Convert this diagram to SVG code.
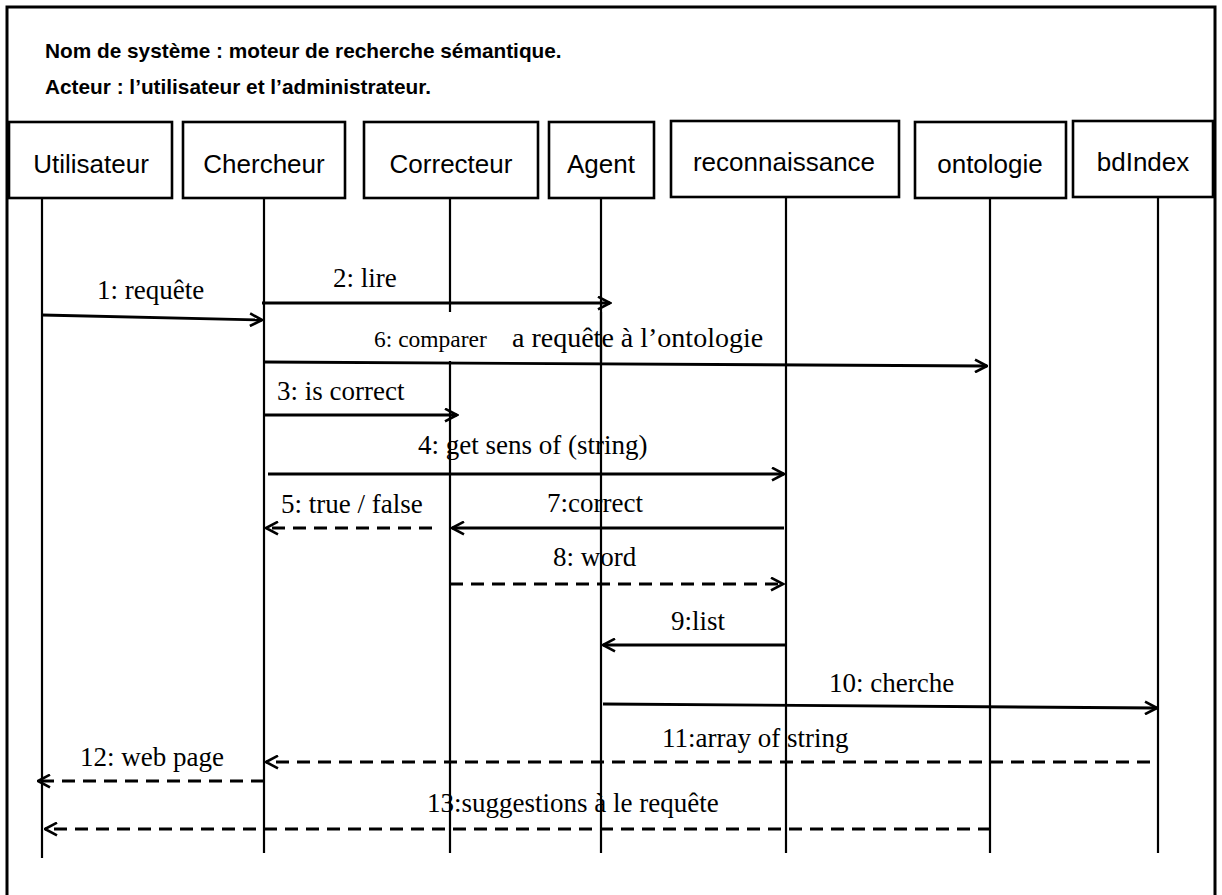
<svg xmlns="http://www.w3.org/2000/svg" width="1222" height="895" viewBox="0 0 1222 895">
<style>
.frame{fill:none;stroke:#000;stroke-width:3}
.box{fill:#fff;stroke:#000;stroke-width:2.6}
.life{stroke:#000;stroke-width:2.2}
.lbl{font-family:"Liberation Sans",Arial,sans-serif;font-size:26px;fill:#000;text-anchor:middle}
.title{font-family:"Liberation Sans",Arial,sans-serif;font-size:20.8px;font-weight:bold;fill:#000}
.msg{font-family:"Liberation Serif","Times New Roman",serif;font-size:27px;fill:#000}
.solid{stroke:#000;stroke-width:2.8;fill:none;marker-end:url(#ah)}
.dash{stroke:#000;stroke-width:2.8;fill:none;stroke-dasharray:13 8;marker-end:url(#ah)}
</style>
<defs>
<marker id="ah" viewBox="0 0 15 15" refX="13.5" refY="7.5" markerWidth="15" markerHeight="15" markerUnits="userSpaceOnUse" orient="auto">
<path d="M1.5,1.2 L13.5,7.5 L1.5,13.8" fill="none" stroke="#000" stroke-width="2.6"/>
</marker>
</defs>
<rect width="1222" height="895" fill="#fff"/>
<path class="frame" d="M7,897 V7 H1215 V897"/>
<text class="title" x="45" y="58">Nom de système : moteur de recherche sémantique.</text>
<text class="title" x="45" y="94">Acteur : l’utilisateur et l’administrateur.</text>

<g id="utilisateur"><line class="life" x1="42" y1="198" x2="42" y2="858"/><rect class="box" x="9" y="122" width="163" height="76"/><text class="lbl" x="91" y="173">Utilisateur</text></g>
<g id="chercheur"><line class="life" x1="264" y1="198" x2="264" y2="853"/><rect class="box" x="183" y="122" width="162" height="76"/><text class="lbl" x="264" y="173">Chercheur</text></g>
<g id="correcteur"><line class="life" x1="450" y1="198" x2="450" y2="853"/><rect class="box" x="364" y="122" width="174" height="76"/><text class="lbl" x="451" y="173">Correcteur</text></g>
<g id="agent"><line class="life" x1="601" y1="198" x2="601" y2="853"/><rect class="box" x="549" y="122" width="105" height="76"/><text class="lbl" x="601" y="173">Agent</text></g>
<g id="reconnaissance"><line class="life" x1="786" y1="198" x2="786" y2="853"/><rect class="box" x="671" y="121" width="228" height="76"/><text class="lbl" x="784" y="171">reconnaissance</text></g>
<g id="ontologie"><line class="life" x1="990" y1="198" x2="990" y2="853"/><rect class="box" x="915" y="122" width="151" height="76"/><text class="lbl" x="990" y="173">ontologie</text></g>
<g id="bdIndex"><line class="life" x1="1158" y1="198" x2="1158" y2="853"/><rect class="box" x="1073" y="121" width="140" height="76"/><text class="lbl" x="1143" y="171">bdIndex</text></g>

<g id="connectors">
<line class="solid" x1="42" y1="315" x2="262" y2="320"/>
<text class="msg" x="97" y="299">1: requête</text>
<line class="solid" x1="262" y1="303" x2="610" y2="303"/>
<text class="msg" x="333" y="287">2: lire</text>
<rect x="372" y="312" width="222" height="49" fill="#fff"/>
<line class="life" x1="601" y1="312" x2="601" y2="362"/>
<line class="solid" x1="264" y1="362" x2="987" y2="366"/>
<text class="msg" x="374" y="347"><tspan font-size="23.5">6: comparer</tspan><tspan x="512" font-size="28">a requête à l’ontologie</tspan></text>
<line class="solid" x1="264" y1="415" x2="457" y2="415"/>
<text class="msg" x="277" y="400">3: is correct</text>
<line class="solid" x1="268" y1="474" x2="784" y2="474"/>
<text class="msg" x="418" y="454">4: get sens of (string)</text>
<line class="dash" x1="432" y1="528" x2="266" y2="528"/>
<text class="msg" x="281" y="513">5: true / false</text>
<line class="solid" x1="784" y1="528" x2="452" y2="528"/>
<text class="msg" x="547" y="512">7:correct</text>
<line class="dash" x1="450" y1="584" x2="783" y2="584"/>
<text class="msg" x="553" y="566">8: word</text>
<line class="solid" x1="786" y1="645" x2="603" y2="645"/>
<text class="msg" x="671" y="630">9:list</text>
<line class="solid" x1="603" y1="704" x2="1157" y2="708"/>
<text class="msg" x="829" y="692">10: cherche</text>
<line class="dash" x1="1150" y1="762" x2="266" y2="762"/>
<text class="msg" x="662" y="747">11:array of string</text>
<line class="dash" x1="264" y1="781" x2="38" y2="781"/>
<text class="msg" x="80" y="766">12: web page</text>
<line class="dash" x1="991" y1="829" x2="45" y2="829"/>
<text class="msg" x="427" y="812" font-size="29">13:suggestions à le requête</text>
</g>
</svg>
